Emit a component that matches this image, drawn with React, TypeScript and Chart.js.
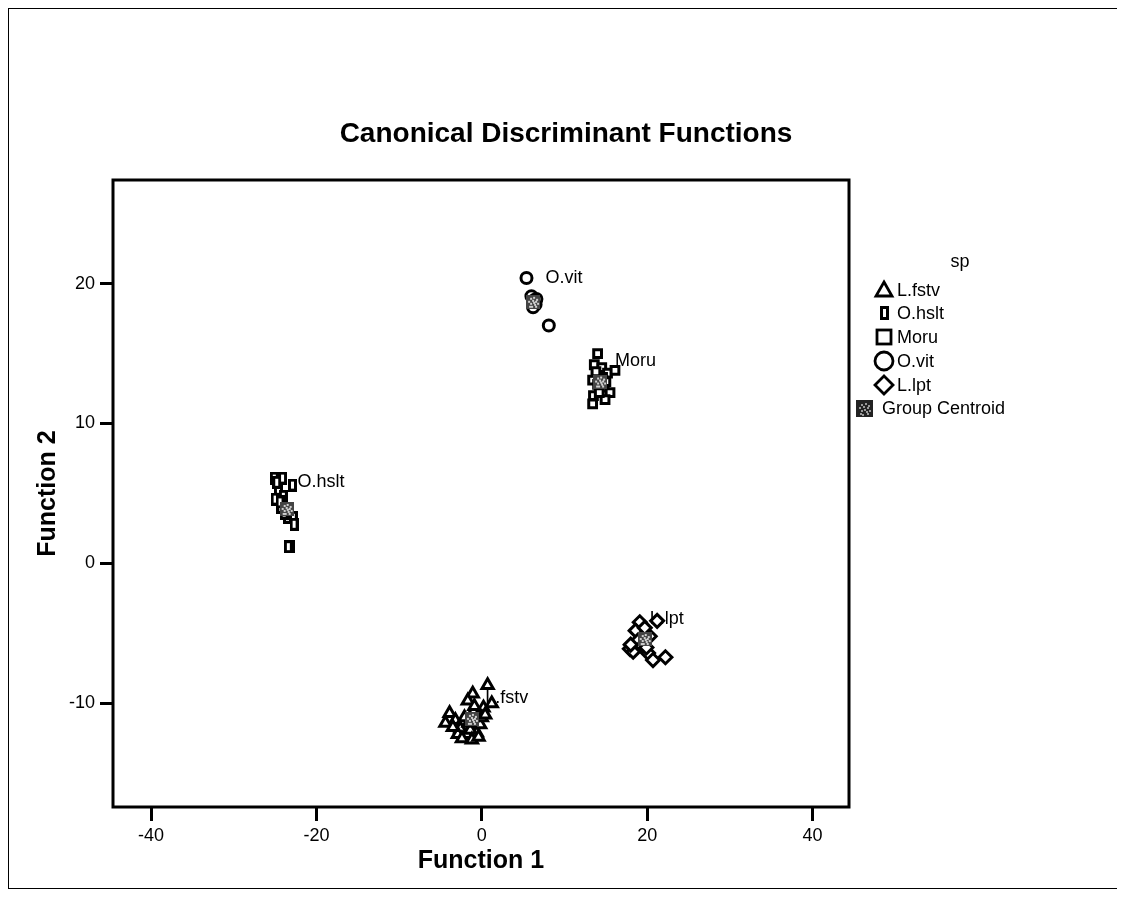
import React, { useEffect, useRef } from "react";
import { Chart, registerables } from "chart.js";
Chart.register(...registerables);

// ---- data ----
const fstvX = [0.7, -1.1, -1.7, 1.2, 0.2, -3.9, -3.2, -2.6, -2.9, -1.8, -0.6, -0.2, -1.0, -2.1, 0.0, -4.4, -1.4, -0.9, -2.4, -1.2, -0.4, -3.5, 0.4, -1.6];
const fstvY = [-8.7, -9.3, -9.8, -10.0, -10.3, -10.7, -11.2, -11.8, -12.2, -12.2, -12.1, -11.5, -10.6, -11.0, -11.0, -11.4, -11.9, -10.2, -12.5, -12.6, -12.4, -11.7, -10.8, -11.4];
const hsltX = [-25.1, -24.1, -22.9, -24.6, -25.0, -24.3, -23.2, -22.8, -22.7, -23.5, -24.0, -23.1, -23.4, -24.8, -23.9, -24.4];
const hsltY = [6.1, 6.1, 5.6, 5.3, 4.6, 4.0, 3.8, 3.3, 2.8, 3.3, 4.8, 1.2, 1.2, 5.8, 3.6, 4.4];
const moruX = [14.0, 13.6, 14.5, 15.2, 16.1, 13.4, 14.8, 15.5, 13.5, 13.4, 14.9, 14.0, 14.6, 13.8, 15.0, 14.2];
const moruY = [15.0, 14.2, 14.0, 13.6, 13.8, 13.1, 12.6, 12.2, 12.0, 11.4, 11.7, 12.8, 13.3, 13.7, 13.0, 12.2];
const vitX = [5.4, 6.0, 6.3, 6.5, 6.2, 6.6, 8.1];
const vitY = [20.4, 19.1, 18.8, 18.5, 18.3, 18.9, 17.0];
const lptX = [19.1, 18.6, 17.9, 20.1, 20.7, 22.2, 21.2, 18.9, 19.4, 18.3, 20.3, 19.7, 18.0, 19.9];
const lptY = [-4.2, -4.8, -6.1, -6.4, -6.9, -6.7, -4.1, -5.5, -5.9, -6.3, -5.2, -4.6, -5.8, -6.0];

const groupNames = ["L.fstv", "O.hslt", "Moru", "O.vit", "L.lpt"];
const centroidX = [-1.2, -23.6, 14.3, 6.2, 19.7];
const centroidY = [-11.1, 3.9, 13.0, 18.7, -5.4];
const labelX = [0.4, -22.3, 16.1, 7.7, 20.3];
const labelY = [-9.6, 5.8, 14.5, 20.4, -4.0];

const xTicks = [-40, -20, 0, 20, 40];
const yTicks = [-10, 0, 10, 20];

const titleText = "Canonical Discriminant Functions";
const xTitle = "Function 1";
const yTitle = "Function 2";
const legendTitle = "sp";
const centroidName = "Group Centroid";

const FONT = "'Liberation Sans', Arial, sans-serif";

function zip(xs: number[], ys: number[]) {
  return xs.map((x, i) => ({ x, y: ys[i] }));
}

function makeHsltCanvas(w: number, h: number, lw: number) {
  const c = document.createElement("canvas");
  c.width = w;
  c.height = h;
  const g = c.getContext("2d")!;
  g.fillStyle = "#000";
  g.fillRect(0, 0, w, h);
  g.fillStyle = "#fff";
  g.fillRect(lw, lw, w - 2 * lw, h - 2 * lw);
  return c;
}

function makeCentroidCanvas(s: number, base: string, speck: string) {
  const c = document.createElement("canvas");
  c.width = s;
  c.height = s;
  const g = c.getContext("2d")!;
  g.fillStyle = base;
  g.fillRect(0, 0, s, s);
  g.fillStyle = speck;
  const pts = [
    [0.3, 0.25], [0.55, 0.2], [0.45, 0.4], [0.65, 0.45], [0.35, 0.6],
    [0.6, 0.7], [0.25, 0.8], [0.75, 0.3], [0.5, 0.55], [0.7, 0.8],
    [0.2, 0.45], [0.8, 0.6], [0.4, 0.85],
  ];
  pts.forEach(([px, py]) => g.fillRect(Math.floor(px * s), Math.floor(py * s), 2, 2));
  return c;
}

export default function App() {
  const ref = useRef<HTMLCanvasElement | null>(null);

  useEffect(() => {
    if (!ref.current) return;
    const hslt = makeHsltCanvas(9, 13, 3);
    const centroid = makeCentroidCanvas(14, "#444", "#cfcfcf");

    const tickValues = (vals: number[]) => (scale: any) => {
      scale.ticks = vals.map((v) => ({ value: v }));
    };

    const framePlugin = {
      id: "frame",
      beforeDatasetsDraw(chart: any) {
        const { ctx, scales } = chart;
        ctx.save();
        ctx.font = `18px ${FONT}`;
        ctx.fillStyle = "#000";
        ctx.textAlign = "left";
        ctx.textBaseline = "middle";
        groupNames.forEach((n, i) => {
          ctx.fillText(n, scales.x.getPixelForValue(labelX[i]), scales.y.getPixelForValue(labelY[i]));
        });
        ctx.restore();
      },
      afterDraw(chart: any) {
        const { ctx, chartArea } = chart;
        ctx.save();
        ctx.strokeStyle = "#000";
        ctx.lineWidth = 3;
        ctx.strokeRect(chartArea.left, chartArea.top, chartArea.right - chartArea.left, chartArea.bottom - chartArea.top);

        // title
        ctx.fillStyle = "#000";
        ctx.font = `bold 28px ${FONT}`;
        ctx.textAlign = "center";
        ctx.textBaseline = "middle";
        ctx.fillText(titleText, 557, 125);

        // legend
        ctx.font = `18px ${FONT}`;
        ctx.fillText(legendTitle, 951, 253);
        ctx.textAlign = "left";
        const rows = [281, 304, 328, 352, 376, 399];
        const ix = 875;
        const tx = 888;
        ctx.lineWidth = 2.8;
        // triangle
        let y = rows[0];
        ctx.beginPath();
        ctx.moveTo(ix, y - 8);
        ctx.lineTo(ix + 8, y + 6);
        ctx.lineTo(ix - 8, y + 6);
        ctx.closePath();
        ctx.stroke();
        // hslt
        y = rows[1];
        ctx.drawImage(makeHsltCanvas(9, 14, 3), ix - 4, y - 7);
        // square
        y = rows[2];
        ctx.strokeRect(ix - 7, y - 7, 14, 14);
        // circle
        y = rows[3];
        ctx.beginPath();
        ctx.arc(ix, y, 9, 0, Math.PI * 2);
        ctx.stroke();
        // diamond
        y = rows[4];
        ctx.beginPath();
        ctx.moveTo(ix, y - 9);
        ctx.lineTo(ix + 9, y);
        ctx.lineTo(ix, y + 9);
        ctx.lineTo(ix - 9, y);
        ctx.closePath();
        ctx.stroke();
        // centroid
        y = rows[5];
        ctx.drawImage(makeCentroidCanvas(17, "#222", "#999"), 847, y - 8);

        const names = [...groupNames, centroidName];
        names.forEach((n, i) => {
          ctx.fillText(n, i === 5 ? 873 : tx, rows[i] + 1);
        });
        ctx.restore();
      },
    };

    const common = {
      showLine: false,
      pointBackgroundColor: "#fff",
      pointBorderColor: "#000",
      pointBorderWidth: 3,
      order: 1,
    };

    const chart = new Chart(ref.current, {
      type: "scatter",
      data: {
        datasets: [
          { ...common, label: groupNames[0], data: zip(fstvX, fstvY), pointStyle: "triangle", pointRadius: 6.5 },
          { ...common, label: groupNames[1], data: zip(hsltX, hsltY), pointStyle: hslt as any, pointRadius: 6 },
          { ...common, label: groupNames[2], data: zip(moruX, moruY), pointStyle: "rect", pointRadius: 5.5 },
          { ...common, label: groupNames[3], data: zip(vitX, vitY), pointStyle: "circle", pointRadius: 5.5 },
          { ...common, label: groupNames[4], data: zip(lptX, lptY), pointStyle: "rectRot", pointRadius: 6.5 },
          { ...common, order: 0, label: centroidName, data: zip(centroidX, centroidY), pointStyle: centroid as any, pointRadius: 7 },
        ],
      },
      options: {
        animation: false,
        responsive: false,
        events: [],
        layout: { padding: { top: 171, right: 269, left: 0, bottom: 0 } },
        plugins: {
          legend: { display: false },
          tooltip: { enabled: false },
          title: { display: false },
        },
        scales: {
          x: {
            type: "linear",
            min: -44.6,
            max: 44.4,
            afterBuildTicks: tickValues(xTicks),
            afterFit: (s: any) => {
              s.height = 81;
            },
            ticks: { font: { size: 18, family: FONT }, color: "#000", padding: 4 },
            grid: { display: true, drawOnChartArea: false, drawTicks: true, tickLength: 14, tickWidth: 3, tickColor: "#000" },
            border: { display: false },
            title: { display: true, text: xTitle, color: "#000", font: { size: 25, weight: "bold", family: FONT }, padding: { top: 0, bottom: 12 } },
          },
          y: {
            type: "linear",
            min: -17.4,
            max: 27.4,
            afterBuildTicks: tickValues(yTicks),
            afterFit: (s: any) => {
              s.width = 104;
            },
            ticks: { font: { size: 18, family: FONT }, color: "#000", padding: 5 },
            grid: { display: true, drawOnChartArea: false, drawTicks: true, tickLength: 13, tickWidth: 3, tickColor: "#000" },
            border: { display: false },
            title: { display: true, text: yTitle, color: "#000", font: { size: 25, weight: "bold", family: FONT }, padding: { top: 24, bottom: 0 } },
          },
        },
      } as any,
      plugins: [framePlugin],
    });
    return () => chart.destroy();
  }, []);

  return (
    <div style={{ width: 1112, height: 879, border: "1px solid #000", position: "relative", background: "#fff" }}>
      <canvas ref={ref} width={1109} height={879} style={{ display: "block", width: 1109, height: 879 }} />
    </div>
  );
}
